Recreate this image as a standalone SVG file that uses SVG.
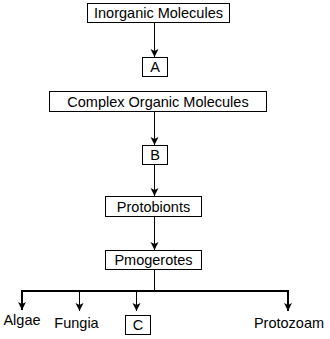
<svg xmlns="http://www.w3.org/2000/svg" width="330" height="339" viewBox="0 0 330 339">
<defs>
<style>
.box{fill:#fff;stroke:#000;stroke-width:1}
.t{font-family:"Liberation Sans",Arial,sans-serif;font-size:14.5px;fill:#000;text-anchor:middle}
.l{fill:none;stroke:#000;stroke-width:1}
.lt{fill:none;stroke:#000;stroke-width:2}
</style>
<marker id="ah" markerUnits="userSpaceOnUse" markerWidth="10" markerHeight="10" refX="8" refY="4" orient="auto">
<path d="M0,0 L8,4 L0,8 L2,4 Z" fill="#000"/>
</marker>
</defs>
<rect width="330" height="339" fill="#fff"/>
<g id="connectors">
<line class="l" x1="154.5" y1="23" x2="154.5" y2="57" marker-end="url(#ah)"/>
<line class="l" x1="154.5" y1="112" x2="154.5" y2="145" marker-end="url(#ah)"/>
<line class="l" x1="154.5" y1="165" x2="154.5" y2="196" marker-end="url(#ah)"/>
<line class="l" x1="154.5" y1="217" x2="154.5" y2="250" marker-end="url(#ah)"/>
<line class="l" x1="154.5" y1="270" x2="154.5" y2="291"/>
<line class="lt" x1="21" y1="291" x2="289" y2="291"/>
<line class="lt" x1="22" y1="291" x2="22" y2="310" marker-end="url(#ah)"/>
<line class="l" x1="79.5" y1="291" x2="79.5" y2="311" marker-end="url(#ah)"/>
<line class="l" x1="136.5" y1="291" x2="136.5" y2="311" marker-end="url(#ah)"/>
<line class="lt" x1="288" y1="291" x2="288" y2="311" marker-end="url(#ah)"/>
</g>
<g id="n-inorganic">
<rect class="box" x="87.5" y="3.5" width="142" height="19"/>
<text class="t" x="158.5" y="18">Inorganic Molecules</text>
</g>
<g id="n-a">
<rect class="box" x="142.5" y="57.5" width="25" height="19"/>
<text class="t" x="155" y="72">A</text>
</g>
<g id="n-complex">
<rect class="box" x="49.5" y="91.5" width="217" height="20"/>
<text class="t" x="158" y="106.5">Complex Organic Molecules</text>
</g>
<g id="n-b">
<rect class="box" x="142.5" y="145.5" width="25" height="19"/>
<text class="t" x="155" y="160">B</text>
</g>
<g id="n-protobionts">
<rect class="box" x="105.5" y="196.5" width="96" height="20"/>
<text class="t" x="153.5" y="211.5">Protobionts</text>
</g>
<g id="n-pmogerotes">
<rect class="box" x="105.5" y="250.5" width="96" height="19"/>
<text class="t" x="153.5" y="265">Pmogerotes</text>
</g>
<g id="n-algae">
<text class="t" x="22" y="325">Algae</text>
</g>
<g id="n-fungia">
<text class="t" x="76.5" y="328">Fungia</text>
</g>
<g id="n-c">
<rect class="box" x="125.5" y="315.5" width="25" height="19"/>
<text class="t" x="138" y="330">C</text>
</g>
<g id="n-protozoam">
<text class="t" x="289" y="328">Protozoam</text>
</g>
</svg>
